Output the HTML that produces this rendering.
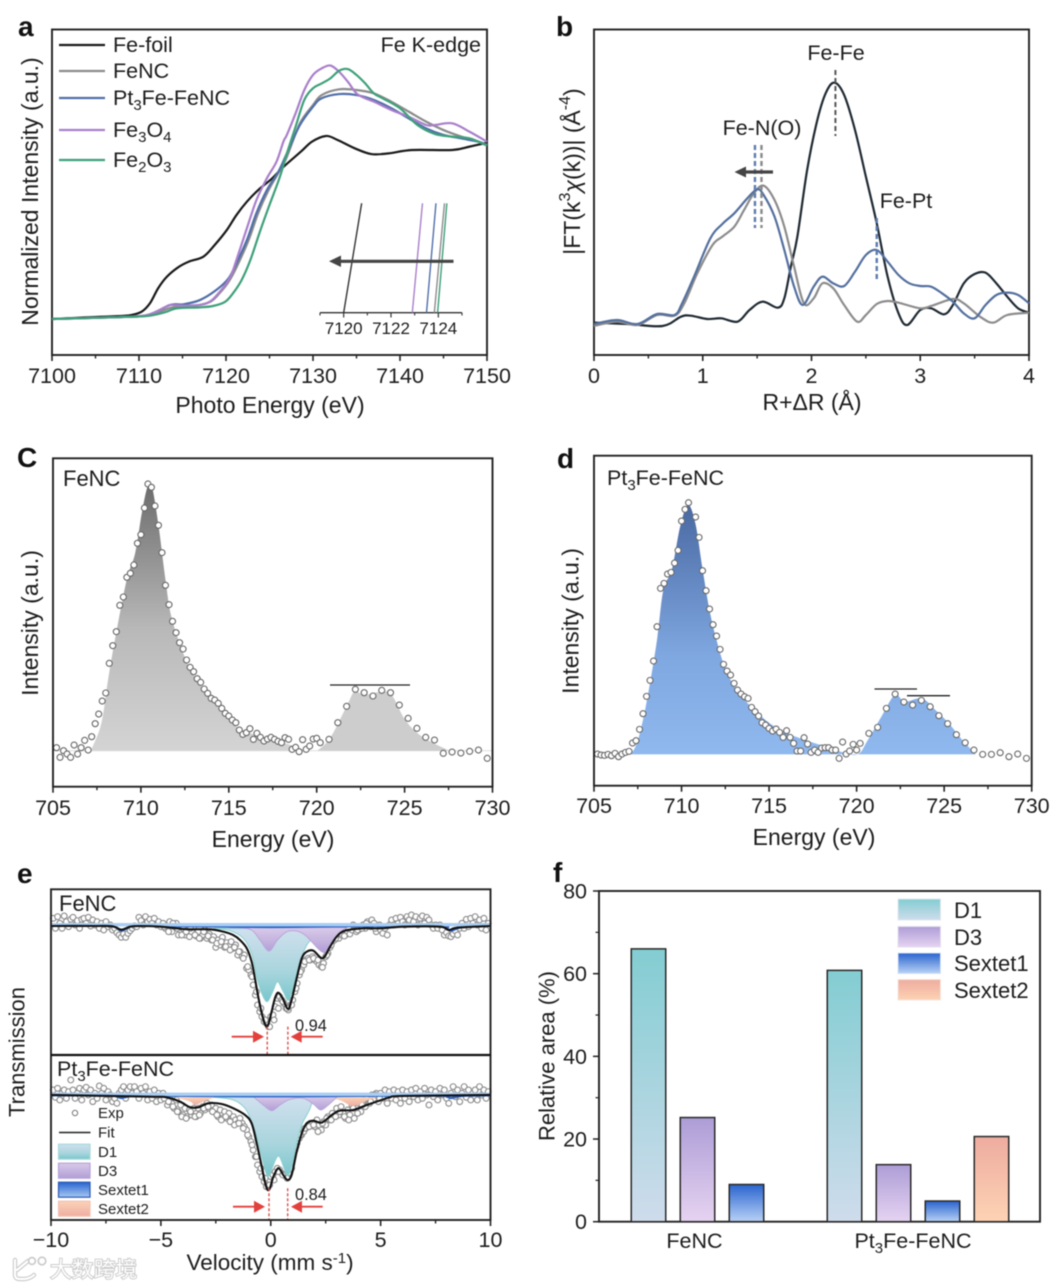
<!DOCTYPE html>
<html lang="en">
<head>
<meta charset="utf-8">
<title>Fe spectroscopy figure</title>
<style>
html,body{margin:0;padding:0;background:#fff;}
#figure{display:block;width:1062px;height:1288px;font-family:"Liberation Sans",Arial,sans-serif;fill:#1c1c1c;filter:blur(.4px);}
#figure text{font-size:21.5px;}
#figure text.title{font-size:23px;}
#figure text.panel{font-size:28px;font-weight:bold;fill:#111;}
.frame{fill:none;stroke:#222;stroke-width:1.9;}
</style>
</head>
<body>
<svg id="figure" xmlns="http://www.w3.org/2000/svg" width="1062" height="1288" viewBox="0 0 1062 1288">
<defs>
<linearGradient id="g-c" x1="0" y1="0" x2="0" y2="1"><stop offset="0" stop-color="#6b6b6b"/><stop offset=".55" stop-color="#b9b9b9"/><stop offset="1" stop-color="#d4d4d4"/></linearGradient>
<linearGradient id="g-d" x1="0" y1="0" x2="0" y2="1"><stop offset="0" stop-color="#4a69a3"/><stop offset=".6" stop-color="#7fa7e0"/><stop offset="1" stop-color="#90b9ef"/></linearGradient>
<linearGradient id="g-e-d1" x1="0" y1="0" x2="0" y2="1"><stop offset="0" stop-color="#d0e0ee"/><stop offset=".6" stop-color="#a8d5dd"/><stop offset="1" stop-color="#78c6cc"/></linearGradient>
<linearGradient id="g-e-d3" x1="0" y1="0" x2="0" y2="1"><stop offset="0" stop-color="#d9cbe9"/><stop offset="1" stop-color="#b29ed6"/></linearGradient>
<linearGradient id="g-e-s1" x1="0" y1="0" x2="0" y2="1"><stop offset="0" stop-color="#2a64cf"/><stop offset="1" stop-color="#a6c8f2"/></linearGradient>
<linearGradient id="g-e-s2" x1="0" y1="0" x2="0" y2="1"><stop offset="0" stop-color="#fbd3b8"/><stop offset="1" stop-color="#efaea1"/></linearGradient>
<linearGradient id="g-f-d1" x1="0" y1="0" x2="0" y2="1"><stop offset="0" stop-color="#83cdd2"/><stop offset="1" stop-color="#cfdcec"/></linearGradient>
<linearGradient id="g-f-d3" x1="0" y1="0" x2="0" y2="1"><stop offset="0" stop-color="#ad9dd6"/><stop offset="1" stop-color="#e6d3f1"/></linearGradient>
<linearGradient id="g-f-s1" x1="0" y1="0" x2="0" y2="1"><stop offset="0" stop-color="#2a64cf"/><stop offset="1" stop-color="#b8d2f5"/></linearGradient>
<linearGradient id="g-f-s2" x1="0" y1="0" x2="0" y2="1"><stop offset="0" stop-color="#eeaca0"/><stop offset="1" stop-color="#fdd3b4"/></linearGradient>
</defs>

<!-- panel a -->
<g id="panel-a">
<text class="panel" x="18" y="36">a</text>
<rect class="frame" x="52" y="29.5" width="435" height="325.5"/>
<text class="title" x="270" y="413" text-anchor="middle">Photo Energy (eV)</text>
<text class="title" transform="translate(30 191.5) rotate(-90)" text-anchor="middle" dominant-baseline="central">Normalized Intensity (a.u.)</text>
<text x="481" y="52" text-anchor="end">Fe K-edge</text>
<g>
<line x1="59" x2="105" y1="45" y2="45" stroke="#1a1a1a" stroke-width="2.2"/>
<text x="113" y="52">Fe-foil</text>
<line x1="59" x2="105" y1="71" y2="71" stroke="#8c8c8c" stroke-width="2.2"/>
<text x="113" y="78">FeNC</text>
<line x1="59" x2="105" y1="98" y2="98" stroke="#506fa9" stroke-width="2.2"/>
<text x="113" y="105">Pt<tspan dy="5" font-size="15">3</tspan><tspan dy="-5">Fe-FeNC</tspan></text>
<line x1="59" x2="105" y1="130" y2="130" stroke="#a97fcb" stroke-width="2.2"/>
<text x="113" y="137">Fe<tspan dy="5" font-size="15">3</tspan><tspan dy="-5">O</tspan><tspan dy="5" font-size="15">4</tspan></text>
<line x1="59" x2="105" y1="160" y2="160" stroke="#3fa07a" stroke-width="2.2"/>
<text x="113" y="167">Fe<tspan dy="5" font-size="15">2</tspan><tspan dy="-5">O</tspan><tspan dy="5" font-size="15">3</tspan></text>
</g>
</g>

<!-- panel b -->
<g id="panel-b">
<text class="panel" x="556" y="36">b</text>
<rect class="frame" x="594" y="29.5" width="435" height="325.5"/>
<text class="title" x="812" y="410" text-anchor="middle">R+ΔR (Å)</text>
<text class="title" transform="translate(572 171.5) rotate(-90)" text-anchor="middle" dominant-baseline="central">|FT(k<tspan dy="-7" font-size="16">3</tspan><tspan dy="7" font-style="italic">χ</tspan>(k))| (Å<tspan dy="-7" font-size="16">-4</tspan><tspan dy="7">)</tspan></text>
<text x="836" y="60" text-anchor="middle">Fe-Fe</text>
<text x="762" y="135" text-anchor="middle">Fe-N(O)</text>
<text x="906" y="208" text-anchor="middle">Fe-Pt</text>
</g>

<!-- panel c -->
<g id="panel-c">
<text class="panel" x="17" y="467">C</text>
<text x="63" y="486" style="font-size:22px">FeNC</text>
<text class="title" x="273" y="847" text-anchor="middle">Energy (eV)</text>
<text class="title" transform="translate(30 623) rotate(-90)" text-anchor="middle" dominant-baseline="central">Intensity (a.u.)</text>
</g>

<!-- panel d -->
<g id="panel-d">
<text class="panel" x="557" y="468">d</text>
<text x="607" y="485">Pt<tspan dy="5" font-size="15">3</tspan><tspan dy="-5">Fe-FeNC</tspan></text>
<text class="title" x="814" y="845" text-anchor="middle">Energy (eV)</text>
<text class="title" transform="translate(570.5 621) rotate(-90)" text-anchor="middle" dominant-baseline="central">Intensity (a.u.)</text>
</g>

<!-- panel e -->
<g id="panel-e">
<text class="panel" x="17" y="883">e</text>
<text class="title" x="270" y="1270" text-anchor="middle" style="font-size:22.5px">Velocity (mm s<tspan dy="-7" font-size="15">-1</tspan><tspan dy="7">)</tspan></text>
<text class="title" transform="translate(17 1052) rotate(-90)" text-anchor="middle" dominant-baseline="central" style="font-size:22px">Transmission</text>
</g>

<!-- panel f -->
<g id="panel-f">
<text class="panel" x="553" y="882">f</text>
<text class="title" transform="translate(547 1056) rotate(-90)" text-anchor="middle" dominant-baseline="central" style="font-size:22px">Relative area (%)</text>
<rect class="frame" x="599" y="891" width="441" height="330.7"/>
<g>
<rect x="898" y="899" width="42.5" height="21" fill="url(#g-f-d1)" stroke="#dfe8ee"/>
<text x="954" y="918" style="font-size:22px">D1</text>
<rect x="898" y="926.5" width="42.5" height="20.5" fill="url(#g-f-d3)" stroke="#e4dff0"/>
<text x="954" y="945" style="font-size:22px">D3</text>
<rect x="898" y="953" width="42.5" height="20.5" fill="url(#g-f-s1)" stroke="#d5e3f4"/>
<text x="954" y="971" style="font-size:22px">Sextet1</text>
<rect x="898" y="979.5" width="42.5" height="20.5" fill="url(#g-f-s2)" stroke="#f6e5dc"/>
<text x="954" y="998" style="font-size:22px">Sextet2</text>
</g>
</g>

<!-- watermark -->
<g>
<path d="M15 1260v15q0 4 5 4h5q6-1 9-4M17 1270l11-9" fill="none" stroke="#c9c9c9" stroke-width="4.4" stroke-linecap="round"/>
<path d="M15 1260v15q0 4 5 4h5q6-1 9-4M17 1270l11-9" fill="none" stroke="#fff" stroke-width="2.2" stroke-linecap="round"/>
<circle cx="32" cy="1261" r="3.4" fill="#fff" stroke="#c9c9c9" stroke-width="1.6"/>
<circle cx="42" cy="1261" r="3.8" fill="#fff" stroke="#c9c9c9" stroke-width="1.6"/>
<text x="50" y="1277" style="font-size:21.8px;font-family:'Liberation Sans','Noto Sans CJK SC',sans-serif;fill:#fff;stroke:#c6c6c6;stroke-width:1.7px;paint-order:stroke">大数跨境</text>
</g>
</svg>

<script>
/* ---------- panel a data: [energy eV, normalized intensity] ---------- */
const aFeFoil = [[7100,0],[7104,.01],[7108,.018],[7109.16,.024],[7110.3,.043],[7111.26,.093],[7112.2,.182],[7113.2,.25],[7114.5,.306],[7115.7,.339],[7117.4,.369],[7118.7,.438],[7120.1,.527],[7121.2,.615],[7122.4,.694],[7123.7,.763],[7125.3,.832],[7126.6,.90],[7128.6,.99],[7129.9,1.05],[7131.5,1.083],[7132.8,1.06],[7134.8,1.01],[7136.7,.976],[7138.7,.98],[7141.4,1.0],[7146,1.0],[7148,1.02],[7150,1.043]];
const aFeNC = [[7100,0],[7108,.012],[7111,.02],[7113,.055],[7114,.07],[7116.3,.077],[7118.2,.102],[7119.3,.155],[7120.3,.22],[7121.2,.305],[7122.6,.467],[7123.7,.627],[7124.9,.763],[7126.2,.88],[7127,.96],[7128.5,1.158],[7130,1.266],[7131,1.325],[7133,1.359],[7135,1.355],[7137,1.335],[7139,1.286],[7141,1.227],[7143,1.168],[7145,1.118],[7147,1.08],[7149,1.05],[7150,1.03]];
const aPt3Fe = [[7100,0],[7108,.012],[7111,.024],[7113.6,.083],[7115.1,.087],[7117,.112],[7118.9,.172],[7120.3,.241],[7121.2,.33],[7122.4,.467],[7123.5,.627],[7124.7,.763],[7126,.87],[7127,.98],[7128.5,1.148],[7130,1.256],[7131,1.306],[7133,1.331],[7135,1.325],[7137,1.296],[7139,1.247],[7141,1.187],[7143,1.128],[7145,1.089],[7147,1.069],[7149,1.049],[7150,1.03]];
const aFe3O4 = [[7100,0],[7108,.012],[7111,.024],[7113,.07],[7113.6,.083],[7115.5,.079],[7117.8,.093],[7119.3,.162],[7120.5,.25],[7121.2,.349],[7122.4,.537],[7123.5,.704],[7124.7,.833],[7125.8,.93],[7126.6,1.05],[7127,1.09],[7128,1.217],[7129,1.355],[7130,1.444],[7131,1.483],[7132,1.50],[7133,1.463],[7134,1.404],[7135,1.335],[7136,1.306],[7137,1.286],[7139,1.237],[7141,1.197],[7143,1.148],[7144,1.148],[7146,1.158],[7148,1.108],[7150,1.049]];
const aFe2O3 = [[7100,0],[7108,.012],[7111,.018],[7113,.04],[7114.3,.063],[7117,.069],[7118.5,.077],[7119.9,.102],[7120.8,.152],[7121.8,.231],[7122.8,.349],[7123.9,.517],[7125,.675],[7126.2,.842],[7127,.98],[7128,1.138],[7129,1.296],[7130,1.365],[7131,1.394],[7132,1.424],[7133,1.469],[7134,1.479],[7135,1.444],[7136,1.394],[7137,1.335],[7138,1.306],[7140,1.247],[7142,1.148],[7144,1.095],[7146,1.079],[7148,1.069],[7150,1.026]];
const aTicksMajor = [7100,7110,7120,7130,7140,7150];
const aTicksMinor = [7105,7115,7125,7135,7145];
/* inset: edge energies at the bottom and top of the inset window */
const insetNames = ['fe-foil','fe3o4','pt3fe-fenc','fenc','fe2o3'];
const insetEdgeLow = [7120,7122.9,7123.5,7123.83,7123.97];
const insetEdgeHigh = [7120.76,7123.33,7123.9,7124.26,7124.36];
const insetColors = ['#333','#a97fcb','#506fa9','#8c8c8c','#3fa07a'];
const insetTicks = [7120,7122,7124];
const insetMinor = [7119,7121,7123,7125];

/* ---------- panel b data: R and FT magnitude (a.u.) ---------- */
const bFeFoilR = [0,.31,.63,.8,.89,1.04,1.17,1.32,1.43,1.55,1.69,1.75,1.81,1.87,1.96,2.05,2.13,2.21,2.3,2.4,2.5,2.6,2.7,2.8,2.88,3,3.1,3.22,3.3,3.4,3.5,3.6,3.7,3.8,3.9,4];
const bFeFoil = [97,93,87,115,118,108,110,100,135,160,142,170,265,355,555,700,785,817,780,675,535,395,235,125,90,135,140,122,150,215,243,247,215,175,140,127];
const bFeNCR = [0,.21,.4,.58,.74,.83,.95,1.09,1.18,1.29,1.38,1.47,1.56,1.66,1.75,1.84,1.93,2.02,2.1,2.2,2.3,2.42,2.5,2.6,2.7,2.8,3,3.1,3.3,3.4,3.55,3.67,3.8,4];
const bFeNC = [87,100,90,120,118,155,245,330,355,385,435,485,508,465,385,265,155,170,215,200,150,100,120,153,162,157,140,147,168,155,115,97,120,127];
const bPt3FeR = [0,.21,.4,.58,.74,.81,.92,1.07,1.18,1.29,1.41,1.5,1.56,1.66,1.75,1.84,1.92,2.02,2.1,2.2,2.3,2.4,2.5,2.6,2.7,2.8,2.9,3,3.1,3.2,3.3,3.4,3.5,3.6,3.7,3.8,3.9,4];
const bPt3Fe = [93,105,93,123,120,155,235,350,393,425,470,497,480,415,315,205,150,205,235,215,207,250,300,315,280,240,215,207,205,185,160,125,110,150,180,187,180,155];
const bTicksMajor = [0,1,2,3,4];
const bTicksMinor = [.5,1.5,2.5,3.5];

/* ---------- panel c data: [energy, intensity a.u.] ---------- */
const cDots = [[705.2,117],[705.4,88],[705.6,108],[705.8,98],[706,88],[706.2,125],[706.4,98],[706.6,117],[706.8,139],[707,110],[707.2,150],[707.4,189],[707.6,218],[707.8,257],[708,281],[708.2,370],[708.4,423],[708.6,465],[708.8,544],[709,569],[709.2,628],[709.4,640],[709.6,665],[709.8,730],[710,756],[710.2,836],[710.4,908],[710.6,898],[710.8,842],[711,784],[711.2,702],[711.4,604],[711.6,546],[711.8,496],[712,462],[712.2,432],[712.4,413],[712.6,380],[712.8,358],[713,345],[713.2,324],[713.4,313],[713.6,293],[713.8,280],[714,265],[714.2,260],[714.4,250],[714.6,235],[714.8,220],[715,212],[715.2,200],[715.4,192],[715.6,170],[715.8,157],[716,162],[716.2,174],[716.4,142],[716.6,160],[716.8,148],[717,137],[717.2,143],[717.4,148],[717.6,142],[717.8,136],[718,132],[718.2,147],[718.4,142],[718.6,112],[718.8,118],[719,105],[719.2,141],[719.4,112],[719.6,122],[719.8,143],[720,145],[720.2,132],[720.7,142],[721.2,192],[721.7,241],[722.2,292],[722.7,282],[723.2,272],[723.7,289],[724.2,282],[724.7,245],[725.2,205],[725.7,175],[726.2,148],[726.7,140],[727.2,100],[727.7,104],[728.2,101],[728.7,106],[729.2,110],[729.7,85]];
const cL3Area = [[707.17,110],[707.75,190],[708.13,320],[708.52,440],[709.19,620],[709.67,700],[710.05,820],[710.38,900],[710.63,900],[711.01,780],[711.4,620],[711.78,500],[712.74,360],[713.9,270],[715.43,180],[716.97,150],[718.51,125],[718.9,108]];
const cL2Area = [[720.05,108],[720.81,150],[721.78,250],[722.16,285],[722.74,275],[723.7,285],[724.27,275],[725.04,200],[726,150],[727.54,108]];
const cBaseline = 108;

/* ---------- panel d data ---------- */
const dDots = [[705.2,95],[705.4,92],[705.6,91],[705.8,94],[706,90],[706.2,97],[706.4,87],[706.6,95],[706.8,100],[707,103],[707.2,128],[707.4,135],[707.6,169],[707.8,216],[708,268],[708.2,316],[708.4,374],[708.6,477],[708.8,592],[709,607],[709.2,635],[709.4,640],[709.6,668],[709.8,706],[710,794],[710.2,829],[710.4,849],[710.8,806],[711,745],[711.2,645],[711.4,585],[711.6,530],[711.8,483],[712,449],[712.2,409],[712.4,364],[712.6,344],[712.8,332],[713,307],[713.2,287],[713.4,275],[713.6,267],[713.8,262],[714,235],[714.2,222],[714.4,209],[714.6,189],[714.8,182],[715,172],[715.2,164],[715.4,170],[715.6,160],[715.8,145],[716,165],[716.2,145],[716.4,127],[716.6,104],[716.8,104],[717,144],[717.2,125],[717.4,100],[717.6,107],[717.8,100],[718,113],[718.2,114],[718.4,114],[718.6,107],[718.8,107],[719,82],[719.2,131],[719.4,95],[719.6,104],[719.8,124],[720,107],[720.2,127],[720.7,157],[721.2,175],[721.7,232],[722.2,275],[722.7,251],[723.2,242],[723.7,256],[724.2,237],[724.7,210],[725.2,186],[725.7,153],[726.2,129],[726.7,107],[727.2,94],[727.7,94],[728.2,99],[728.7,87],[729.2,95],[729.7,82]];
const dArea = [[707.12,94],[707.51,137],[707.99,247],[708.57,427],[708.96,587],[709.44,647],[709.92,777],[710.37,842],[710.79,787],[711.18,657],[711.56,537],[711.95,447],[712.53,347],[713.3,277],[714.46,212],[715.62,167],[716.78,142],[717.93,122],[719.09,102],[720.06,94],[720.64,137],[721.41,207],[722.18,272],[722.76,252],[723.73,262],[724.5,227],[725.27,187],[726.04,137],[726.81,94]];
const dBaseline = 94;
const energyTicksMajor = [705,710,715,720,725,730];
const energyTicksMinor = [707.5,712.5,717.5,722.5,727.5];

/* ---------- panel e data: velocity (mm/s) and transmission depth (a.u., grows downward) ---------- */
const eVelocity = [
-9.9,-9.8,-9.7,-9.6,-9.5,-9.4,-9.3,-9.2,-9.1,-9,
-8.9,-8.8,-8.7,-8.6,-8.5,-8.4,-8.3,-8.2,-8.1,-8,
-7.9,-7.8,-7.7,-7.6,-7.5,-7.4,-7.3,-7.2,-7.1,-7,
-6.9,-6.8,-6.7,-6.6,-6.5,-6.4,-6.3,-6.2,-6.1,-6,
-5.9,-5.8,-5.7,-5.6,-5.5,-5.4,-5.3,-5.2,-5.1,-5,
-4.9,-4.8,-4.7,-4.6,-4.5,-4.4,-4.3,-4.2,-4.1,-4,
-3.9,-3.8,-3.7,-3.6,-3.5,-3.4,-3.3,-3.2,-3.1,-3,
-2.9,-2.8,-2.7,-2.6,-2.5,-2.4,-2.3,-2.2,-2.1,-2,
-1.9,-1.8,-1.7,-1.6,-1.5,-1.4,-1.3,-1.2,-1.1,-1,
-.9,-.8,-.7,-.6,-.5,-.4,-.3,-.2,-.1,0,
.1,.2,.3,.4,.5,.6,.7,.8,.9,1,
1.1,1.2,1.3,1.4,1.5,1.6,1.7,1.8,1.9,2,
2.1,2.2,2.3,2.4,2.5,2.6,2.7,2.8,2.9,3,
3.1,3.2,3.3,3.4,3.5,3.6,3.7,3.8,3.9,4,
4.1,4.2,4.3,4.4,4.5,4.6,4.7,4.8,4.9,5,
5.1,5.2,5.3,5.4,5.5,5.6,5.7,5.8,5.9,6,
6.1,6.2,6.3,6.4,6.5,6.6,6.7,6.8,6.9,7,
7.1,7.2,7.3,7.4,7.5,7.6,7.7,7.8,7.9,8,
8.1,8.2,8.3,8.4,8.5,8.6,8.7,8.8,8.9,9,
9.1,9.2,9.3,9.4,9.5,9.6,9.7,9.8,9.9];
const eExpFeNC = [
175,205,170,190,205,168,185,200,178,172,
195,182,205,178,175,190,172,198,180,195,
185,205,190,210,185,200,195,210,205,218,
225,232,222,232,220,212,205,198,200,172,
182,195,170,185,178,190,175,195,185,200,
190,205,198,185,215,200,190,225,210,205,
225,212,230,215,200,228,215,235,225,210,
235,222,240,230,262,240,255,232,262,248,
258,245,265,255,285,275,290,285,325,330,
345,375,405,435,455,470,485,490,500,470,
465,440,415,410,420,430,445,450,435,420,
395,370,345,330,315,300,295,300,290,300,
305,315,320,310,290,280,262,245,240,230,
235,225,220,225,215,222,210,200,215,210,
200,195,205,185,195,180,190,215,200,210,
220,205,225,195,180,195,175,190,172,185,
195,170,180,165,185,170,195,175,168,190,
172,180,195,205,195,205,195,210,225,218,
228,230,222,212,225,205,190,205,178,200,
175,190,170,195,180,205,175,210,190];
const eExpPt3Fe = [
690,712,685,720,700,690,715,695,660,690,
715,700,685,720,690,682,705,690,725,700,
715,678,700,685,720,695,705,725,715,730,
700,690,680,715,690,680,700,680,695,715,
685,700,680,720,695,715,690,725,700,720,
700,715,735,710,730,745,720,755,735,765,
745,770,750,765,745,770,745,760,740,750,
730,745,735,755,745,770,750,775,755,775,
760,785,770,780,790,775,790,800,810,830,
845,870,890,915,935,950,965,980,975,950,
945,935,925,930,940,945,950,940,915,895,
870,850,835,825,815,805,795,790,790,800,
780,795,810,785,795,770,780,760,770,745,
765,740,760,775,750,765,735,775,745,730,
755,725,740,720,730,705,720,700,725,700,
715,690,730,695,715,690,720,695,730,690,
715,695,725,690,710,685,720,695,715,685,
705,735,690,710,695,720,685,705,690,715,
730,700,680,710,690,725,700,680,712,690,
720,700,690,720,680,705,690,715,695];
/* additional interleaved central channels */
const eVelocityExtra = [
-4.85,-4.65,-4.45,-4.25,-4.05,-3.85,-3.65,-3.45,-3.25,-3.05,
-2.85,-2.65,-2.45,-2.25,-2.05,-1.85,-1.65,-1.45,-1.25,-1.05,
-.85,-.65,-.45,-.25,-.05,.15,.35,.55,.75,.95,
1.15,1.35,1.55,1.75,1.95,2.15,2.35,2.55,2.75,2.95,
3.15,3.35,3.55,3.75,3.95,4.15,4.35,4.55,4.75,4.95];
const eExtraFeNC = [
200,215,190,205,225,215,205,225,235,215,
228,240,250,245,260,270,262,275,295,320,
350,395,445,480,500,480,445,425,445,435,
385,335,305,300,295,300,322,285,255,235,
220,228,205,195,210,205,190,200,205,195];
const eExtraPt3Fe = [
715,725,740,755,770,775,755,770,765,745,
740,755,765,780,770,785,795,790,805,825,
855,890,925,955,975,960,935,945,955,925,
860,825,805,800,795,815,790,775,780,770,
755,770,780,745,760,735,715,725,705,715];
const eFitFeNC = [[-10,198],[-8,198],[-7.2,199],[-6.8,209],[-6.4,200],[-6,198],[-5,200],[-4,207],[-3.67,208],[-2.76,208],[-2.16,215],[-1.72,225],[-1.4,240],[-1.09,265],[-.87,305],[-.72,355],[-.57,410],[-.37,470],[-.16,500],[.04,455],[.19,415],[.34,398],[.54,415],[.78,447],[.95,420],[1.18,355],[1.41,295],[1.64,275],[1.94,272],[2.36,295],[2.7,260],[3,230],[3.38,212],[4.2,205],[5,205],[6,200],[7.7,200],[8.1,210],[8.5,203],[10,198]];
const eFitPt3Fe = [[-10,705],[-5.5,710],[-4.74,712],[-4.13,725],[-3.67,742],[-3.3,742],[-2.84,730],[-2.23,732],[-1.7,745],[-1.17,765],[-.87,790],[-.64,850],[-.41,920],[-.21,980],[-.06,988],[.12,950],[.35,925],[.57,945],[.76,960],[.95,945],[1.18,875],[1.41,820],[1.64,790],[1.94,782],[2.32,788],[2.78,765],[3.15,752],[3.76,750],[4.37,735],[5.13,718],[5.43,712],[6,708],[10,705]];
const eD1FeNC = [[-2.6,205],[-1.85,212],[-1.25,235],[-.87,280],[-.64,350],[-.41,400],[-.16,425],[.09,395],[.31,365],[.57,395],[.82,420],[1.1,360],[1.41,290],[1.64,255],[1.86,235],[1.97,205]];
const eD3FeNC = [[-1.9,203],[-.94,208],[-.49,240],[-.08,273],[.3,240],[.73,215],[1.18,213],[1.56,225],[1.86,245],[2.39,277],[2.77,250],[3.08,220],[3.45,203]];
const eD1Pt3Fe = [[-2.6,712],[-1.7,720],[-1.17,745],[-.87,785],[-.64,830],[-.41,890],[-.21,940],[-.06,945],[.35,888],[.73,945],[.95,920],[1.18,850],[1.41,795],[1.64,765],[1.79,745],[1.95,712]];
const eD3Pt3Fe = [[-.79,710],[-.34,735],[.04,752],[.42,735],[.88,718],[1.48,715],[1.94,732],[2.27,750],[2.62,735],[3,712]];
const eS2LeftPt3Fe = [[-4.35,712],[-3.67,725],[-3.45,735],[-3.07,725],[-2.6,714]];
const eS2RightPt3Fe = [[2.78,714],[3.2,722],[3.76,738],[4.37,722],[4.82,712]];
const eS1FeNC = [[-10,197],[-7.4,198],[-7,204],[-6.8,212],[-6.5,204],[-6.1,198],[-3.5,199],[0,201],[3,199],[7.6,198],[8,205],[8.2,212],[8.5,205],[8.9,198],[10,197]];
const eS1Pt3Fe = [[-10,706],[-7.4,707],[-7,710],[-6.8,714],[-6.5,710],[-6.1,707],[-3.5,708],[0,709],[3,708],[7.6,707],[8,710],[8.2,714],[8.5,710],[8.9,707],[10,706]];
const eTicksMajor = [-10,-5,0,5,10];
const eTickLabels = ['\u221210','\u22125','0','5','10'];
const eTicksMinor = [-7.5,-2.5,2.5,7.5];
const eSplitFeNC = [-.16,.78];
const eSplitPt3Fe = [-.08,.77];

/* ---------- panel f data ---------- */
const fCategories = ['FeNC','Pt3Fe-FeNC'];
const fSeries = ['D1','D3','Sextet1','Sextet2'];
const fFeNC = [66,25.2,9,null];
const fPt3Fe = [60.8,13.8,5,20.6];
const fTicksMajor = [0,20,40,60,80];
const fTicksMinor = [10,30,50,70];

/* ---------- scales ---------- */
function linear(d0,d1,r0,r1){return function(v){return r0+(v-d0)*(r1-r0)/(d1-d0);};}
const xA = linear(7100,7150,52,487);
const yA = linear(0,1,319,150);
const xInset = linear(7119,7125,320,462);
const xB = linear(0,4,594,1029);
const yB = linear(0,977,355,29.3);
const xC = linear(705,730,53,492.5);
const yC = linear(0,985,786.7,458.3);
const xD = linear(705,730,594,1031.7);
const yD = linear(0,990,785.7,455.7);
const xE = linear(-10,10,51,490.5);
const yE = linear(0,1000,860,1193.3);
const yF = linear(0,80,1221.7,891);
const SLOT0 = 648.5, SLOT_STEP = 49, GROUP_STEP = 196, BAR_W = 34.5;
function xF(group,series){return SLOT0 + group*GROUP_STEP + series*SLOT_STEP;}

/* ---------- helpers ---------- */
const NS = 'http://www.w3.org/2000/svg';
function make(tag,attrs,parent){
  const el = document.createElementNS(NS,tag);
  for(const k in attrs){ el.setAttribute(k,attrs[k]); }
  parent.appendChild(el);
  return el;
}
function smooth(pts){
  let d = 'M'+pts[0][0].toFixed(2)+' '+pts[0][1].toFixed(2);
  for(let i=0;i<pts.length-1;i++){
    const p0=pts[Math.max(i-1,0)],p1=pts[i],p2=pts[i+1],p3=pts[Math.min(i+2,pts.length-1)];
    const c1x=p1[0]+(p2[0]-p0[0])/6,c1y=p1[1]+(p2[1]-p0[1])/6;
    const c2x=p2[0]-(p3[0]-p1[0])/6,c2y=p2[1]-(p3[1]-p1[1])/6;
    d+='C'+c1x.toFixed(2)+' '+c1y.toFixed(2)+' '+c2x.toFixed(2)+' '+c2y.toFixed(2)+' '+p2[0].toFixed(2)+' '+p2[1].toFixed(2);
  }
  return d;
}
function project(data,xf,yf){return data.map(function(p){return [xf(p[0]),yf(p[1])];});}
function zip(a,b){return a.map(function(v,i){return [v,b[i]];});}
function drawLine(parent,pts,color,w,name){
  const el = make('path',{d:smooth(pts),fill:'none',stroke:color,'stroke-width':w,'stroke-linejoin':'round'},parent);
  
  
  return el;
}
function drawArea(parent,pts,baseY,fill,name){
  const first=pts[0],last=pts[pts.length-1];
  const d = smooth(pts)+'L'+last[0].toFixed(2)+' '+baseY.toFixed(2)+'L'+first[0].toFixed(2)+' '+baseY.toFixed(2)+'Z';
  const el = make('path',{d:d,fill:fill},parent);
  
  
  return el;
}
function drawDots(parent,data,xf,yf,r,stroke,name){
  data.forEach(function(p){
    const c = make('circle',{cx:xf(p[0]).toFixed(2),cy:yf(p[1]).toFixed(2),r:r,fill:'#fff',stroke:stroke,'stroke-width':1.1},parent);
    
    
  });
}
function drawSegment(parent,x1,y1,x2,y2,color,w,dash,name){
  const attrs = {x1:x1,y1:y1,x2:x2,y2:y2,stroke:color,'stroke-width':w};
  if(dash){ attrs['stroke-dasharray']=dash; }
  const el = make('line',attrs,parent);
  
  
  return el;
}
function drawText(parent,x,y,anchor,str,name,size){
  const el = make('text',{x:x,y:y,'text-anchor':anchor},parent);
  if(size){ el.setAttribute('style','font-size:'+size+'px'); }
  el.textContent = str;
  
  
  return el;
}
function drawXAxis(parent,xf,axisY,major,minor,labels,labelY){
  major.forEach(function(v,i){
    drawSegment(parent,xf(v),axisY,xf(v),axisY+6,'#222',1.6,null,'x-tick');
    drawText(parent,xf(v),labelY,'middle',labels?labels[i]:String(v),'x-tick-label');
  });
  minor.forEach(function(v){
    drawSegment(parent,xf(v),axisY,xf(v),axisY+3.5,'#222',1.4,null,'x-minor-tick');
  });
}

/* ---------- panel a ---------- */
(function(){
  const g = document.getElementById('panel-a');
  drawXAxis(g,xA,355,aTicksMajor,aTicksMinor,null,383);
  drawLine(g,project(aFeFoil,xA,yA),'#1a1a1a',2.2,'series-fe-foil');
  drawLine(g,project(aFeNC,xA,yA),'#8c8c8c',2.2,'series-fenc');
  drawLine(g,project(aPt3Fe,xA,yA),'#506fa9',2.2,'series-pt3fe-fenc');
  drawLine(g,project(aFe3O4,xA,yA),'#a97fcb',2.2,'series-fe3o4');
  drawLine(g,project(aFe2O3,xA,yA),'#3fa07a',2.2,'series-fe2o3');
  /* inset */
  const inset = make('g',{},g);
  
  
  drawSegment(inset,320,312.7,462,312.7,'#333',1.3,null,'inset-axis');
  insetTicks.forEach(function(v){
    drawSegment(inset,xInset(v),312.7,xInset(v),317.5,'#333',1.2,null,'inset-tick');
    drawText(inset,xInset(v),334,'middle',String(v),'inset-tick-label',17);
  });
  insetMinor.forEach(function(v){
    drawSegment(inset,xInset(v),312.7,xInset(v),315.5,'#333',1.1,null,'inset-minor-tick');
  });
  insetNames.forEach(function(n,i){
    drawSegment(inset,xInset(insetEdgeLow[i]),312.7,xInset(insetEdgeHigh[i]),203.3,insetColors[i],1.4,null,'inset-edge-'+n);
  });
  drawSegment(inset,453.5,261.3,338,261.3,'#444',3.2,null,'inset-shift-arrow-shaft');
  const head = make('polygon',{points:'329,261.3 341,255.5 341,267','fill':'#444'},inset);
  
  
})();

/* ---------- panel b ---------- */
(function(){
  const g = document.getElementById('panel-b');
  drawXAxis(g,xB,355,bTicksMajor,bTicksMinor,null,383);
  drawLine(g,project(zip(bFeFoilR,bFeFoil),xB,yB),'#1f2a33',2.2,'series-fe-foil-ft');
  drawLine(g,project(zip(bFeNCR,bFeNC),xB,yB),'#8c8c8c',2.2,'series-fenc-ft');
  drawLine(g,project(zip(bPt3FeR,bPt3Fe),xB,yB),'#54709f',2.2,'series-pt3fe-fenc-ft');
  drawSegment(g,xB(2.22),70,xB(2.22),136,'#555',2,'5 3','peak-marker-fe-fe');
  drawSegment(g,xB(1.48),145,xB(1.48),228,'#5c7bad',2.4,'5 3','peak-marker-fe-n-pt3fe');
  drawSegment(g,xB(1.54),145,xB(1.54),228,'#888',2.4,'5 3','peak-marker-fe-n-fenc');
  drawSegment(g,xB(2.6),218,xB(2.6),280,'#5c7bad',2.4,'5 3','peak-marker-fe-pt');
  drawSegment(g,773,172,742,172,'#444',3.2,null,'shift-arrow-shaft');
  const head = make('polygon',{points:'734.5,172 746,166.5 746,177.5',fill:'#444'},g);
  
  
})();

/* ---------- panel c ---------- */
(function(){
  const g = document.getElementById('panel-c');
  const base = yC(cBaseline);
  drawSegment(g,53,base,492,base,'#e2e2e2',1.2,null,'baseline-c');
  drawArea(g,project(cL3Area,xC,yC),base,'url(#g-c)','area-l3-fenc');
  drawArea(g,project(cL2Area,xC,yC),base,'#cdcdcd','area-l2-fenc');
  drawSegment(g,330,685,410,685,'#222',1.3,null,'l2-plateau-line');
  drawDots(g,cDots,xC,yC,3,'#666','exp-dot-fenc');
  const frame = make('rect',{x:53,y:458.3,width:439.5,height:328.4,'class':'frame'},g);
  
  
  drawXAxis(g,xC,786.7,energyTicksMajor,energyTicksMinor,null,815);
})();

/* ---------- panel d ---------- */
(function(){
  const g = document.getElementById('panel-d');
  const base = yD(dBaseline);
  drawArea(g,project(dArea,xD,yD),base,'url(#g-d)','area-pt3fe-fenc');
  drawSegment(g,874.5,689,917,689,'#222',1.3,null,'l2-peak-line-a');
  drawSegment(g,907,695.7,950,695.7,'#222',1.3,null,'l2-peak-line-b');
  drawDots(g,dDots,xD,yD,3,'#666','exp-dot-pt3fe');
  const frame = make('rect',{x:594,y:455.7,width:437.7,height:330,'class':'frame'},g);
  
  
  drawXAxis(g,xD,785.7,energyTicksMajor,energyTicksMinor,null,813);
})();

/* ---------- panel e ---------- */
(function(){
  const g = document.getElementById('panel-e');
  drawDots(g,zip(eVelocity,eExpFeNC),xE,yE,2.9,'#8a8a8a','exp-dot-fenc');
  drawDots(g,zip(eVelocityExtra,eExtraFeNC),xE,yE,2.9,'#8a8a8a','exp-dot-fenc');
  drawDots(g,zip(eVelocity,eExpPt3Fe),xE,yE,2.9,'#8a8a8a','exp-dot-pt3fe');
  drawDots(g,zip(eVelocityExtra,eExtraPt3Fe),xE,yE,2.9,'#8a8a8a','exp-dot-pt3fe');
  /* top components */
  const d1a = drawArea(g,project(eD1FeNC,xE,yE),yE(205),'url(#g-e-d1)','area-d1-fenc');
  d1a.setAttribute('stroke','#8ccfd0');
  const d3a = drawArea(g,project(eD3FeNC,xE,yE),yE(203),'url(#g-e-d3)','area-d3-fenc');
  d3a.setAttribute('stroke','#b9a5da');
  drawLine(g,project(eS1FeNC,xE,yE),'#2b62c4',2.2,'sextet1-fenc');
  drawSegment(g,xE(-10),yE(194),xE(10),yE(194),'#a9cdf3',3.4,null,'sextet-band-fenc');
  drawLine(g,project(eFitFeNC,xE,yE),'#111',2.1,'fit-fenc');
  /* bottom components */
  const d1b = drawArea(g,project(eD1Pt3Fe,xE,yE),yE(712),'url(#g-e-d1)','area-d1-pt3fe');
  d1b.setAttribute('stroke','#8ccfd0');
  drawArea(g,project(eS2LeftPt3Fe,xE,yE),yE(712),'url(#g-e-s2)','area-sextet2-left');
  drawArea(g,project(eS2RightPt3Fe,xE,yE),yE(712),'url(#g-e-s2)','area-sextet2-right');
  const d3b = drawArea(g,project(eD3Pt3Fe,xE,yE),yE(708),'url(#g-e-d3)','area-d3-pt3fe');
  d3b.setAttribute('stroke','#b9a5da');
  drawLine(g,project(eS1Pt3Fe,xE,yE),'#2b62c4',2.2,'sextet1-pt3fe');
  drawSegment(g,xE(-10),yE(703),xE(10),yE(703),'#a9cdf3',3.4,null,'sextet-band-pt3fe');
  drawLine(g,project(eFitPt3Fe,xE,yE),'#111',2.1,'fit-pt3fe');
  /* splitting markers */
  eSplitFeNC.forEach(function(v){ drawSegment(g,xE(v),yE(500),xE(v),yE(582),'#d8514d',1.4,'3 2','splitting-marker-fenc'); });
  eSplitPt3Fe.forEach(function(v){ drawSegment(g,xE(v),yE(985),xE(v),yE(1078),'#d8514d',1.4,'3 2','splitting-marker-pt3fe'); });
  [[231.7,1036.7,264,1],[322.7,1036.7,290.7,-1],[233,1206.7,265,1],[322.7,1206.7,291,-1]].forEach(function(a){
    drawSegment(g,a[0],a[1],a[2]-a[3]*9,a[1],'#e2403c',1.8,null,'splitting-arrow-shaft');
    const h = make('polygon',{points:a[2]+','+a[1]+' '+(a[2]-a[3]*11)+','+(a[1]-6)+' '+(a[2]-a[3]*11)+','+(a[1]+6),fill:'#e2403c'},g);
    
    
  });
  drawText(g,295,1031,'start','0.94','splitting-value-fenc',16.4);
  drawText(g,295,1200,'start','0.84','splitting-value-pt3fe',16.4);
  /* frames */
  const f1 = make('rect',{x:51,y:889.3,width:439.5,height:330.7,'class':'frame'},g);
  
  
  drawSegment(g,51,1055,490.5,1055,'#111',2.2,null,'panel-divider-e');
  /* labels */
  drawText(g,59,911,'start','FeNC','sample-label-fenc-e',22);
  const pt = make('text',{x:57,y:1076},g);
  
  
  const t1 = make('tspan',{},pt); t1.textContent='Pt';
  
  
  const t2 = make('tspan',{dy:5,'font-size':15},pt); t2.textContent='3';
  
  
  const t3 = make('tspan',{dy:-5},pt); t3.textContent='Fe-FeNC';
  
  
  /* legend */
  const c = make('circle',{cx:75,cy:1113,r:2.7,fill:'#fff',stroke:'#777','stroke-width':1},g);
  
  
  drawText(g,98,1118,'start','Exp','legend-entry-exp',15);
  drawSegment(g,59,1132.5,90.5,1132.5,'#222',1.5,null,'legend-line-fit');
  drawText(g,98,1137.5,'start','Fit','legend-entry-fit',15);
  const legendRows = [['D1','url(#g-e-d1)','#a9d9db',1151.7],['D3','url(#g-e-d3)','#b6a3d9',1170.7],['Sextet1','url(#g-e-s1)','#2a5bb5',1189.7],['Sextet2','url(#g-e-s2)','#f3c2b2',1208.7]];
  legendRows.forEach(function(r){
    const s = make('rect',{x:58.5,y:r[3]-7.5,width:31.5,height:15,fill:r[1],stroke:r[2],'stroke-width':1.2},g);
    
    
    drawText(g,98,r[3]+5.2,'start',r[0],'legend-entry',15);
  });
  drawXAxis(g,xE,1220,eTicksMajor,eTicksMinor,eTickLabels,1247);
})();

/* ---------- panel f ---------- */
(function(){
  const g = document.getElementById('panel-f');
  const fills = ['url(#g-f-d1)','url(#g-f-d3)','url(#g-f-s1)','url(#g-f-s2)'];
  [fFeNC,fPt3Fe].forEach(function(vals,gi){
    vals.forEach(function(v,si){
      if(v===null){return;}
      const cx = xF(gi,si);
      const b = make('rect',{x:cx-BAR_W/2,y:yF(v),width:BAR_W,height:yF(0)-yF(v),fill:fills[si],stroke:'#2a2a2a','stroke-width':1.5},g);
      
      
    });
  });
  fTicksMajor.forEach(function(v){
    drawSegment(g,599,yF(v),593,yF(v),'#222',1.5,null,'y-tick');
    drawText(g,587,yF(v)+7.5,'end',String(v),'y-tick-label');
  });
  fTicksMinor.forEach(function(v){
    drawSegment(g,599,yF(v),595.5,yF(v),'#222',1.2,null,'y-minor-tick');
  });
  drawText(g,694.5,1248,'middle',fCategories[0],'x-category-label-fenc');
  const pt = make('text',{x:913,y:1248,'text-anchor':'middle'},g);
  
  
  const t1 = make('tspan',{},pt); t1.textContent='Pt';
  
  
  const t2 = make('tspan',{dy:5,'font-size':15},pt); t2.textContent='3';
  
  
  const t3 = make('tspan',{dy:-5},pt); t3.textContent='Fe-FeNC';
  
  
})();
</script>
</body>
</html>
